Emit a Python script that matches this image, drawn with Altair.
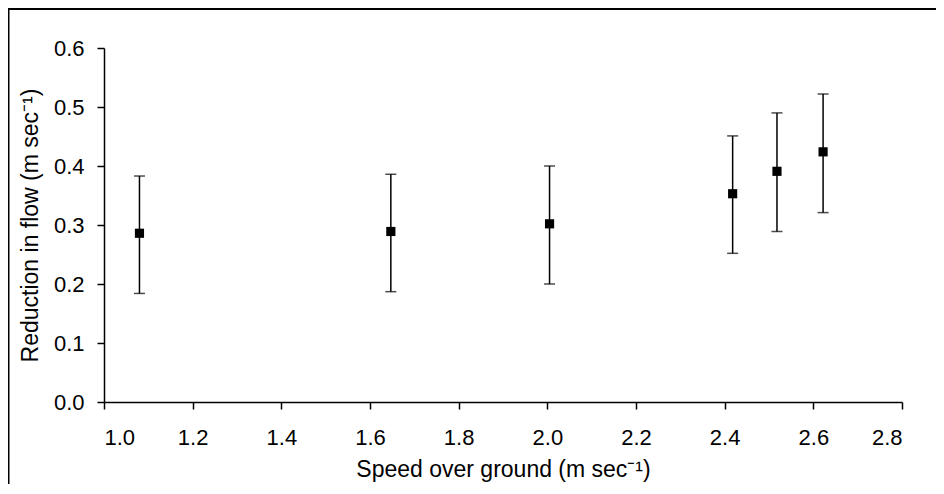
import altair as alt
import pandas as pd

speed = [1.08, 1.647, 2.005, 2.418, 2.518, 2.622]
reduction = [0.286, 0.289, 0.302, 0.353, 0.391, 0.424]
lower = [0.184, 0.187, 0.200, 0.252, 0.289, 0.321]
upper = [0.383, 0.386, 0.400, 0.451, 0.490, 0.522]
x_ticks = [1.0, 1.2, 1.4, 1.6, 1.8, 2.0, 2.2, 2.4, 2.6, 2.8]
y_ticks = [0.0, 0.1, 0.2, 0.3, 0.4, 0.5, 0.6]

df = pd.DataFrame({"speed": speed, "reduction": reduction, "lower": lower, "upper": upper})

FONT = "Liberation Sans"
W, H = 798, 354

xs = alt.Scale(domain=[1.0, 2.8], nice=False, zero=False)
ys = alt.Scale(domain=[0.0, 0.6], nice=False)

x_axis = alt.Axis(values=x_ticks, format=".1f", grid=False, tickSize=7, tickWidth=1.5,
                  domainWidth=1.5, domainColor="black", tickColor="black",
                  labelFont=FONT, labelFontSize=22, labelColor="black", labelPadding=18,
                  title="Speed over ground (m sec⁻¹)", titleFont=FONT, titleFontSize=23,
                  titleFontWeight="normal", titleColor="black",
                  titleX=W / 2, titleY=67, titleBaseline="middle", titleAlign="center")
y_axis = alt.Axis(values=y_ticks, format=".1f", grid=False, tickSize=7, tickWidth=1.5,
                  domainWidth=1.5, domainColor="black", tickColor="black",
                  labelFont=FONT, labelFontSize=22, labelColor="black", labelPadding=13,
                  title="Reduction in flow (m sec⁻¹)", titleFont=FONT, titleFontSize=23,
                  titleFontWeight="normal", titleColor="black",
                  titleX=-74, titleY=H / 2, titleAngle=270, titleBaseline="middle",
                  titleAlign="center")

base = alt.Chart(df)

bars = base.mark_rule(color="black", strokeWidth=1.5).encode(
    x=alt.X("speed:Q", scale=xs, axis=x_axis),
    y=alt.Y("lower:Q", scale=ys, axis=y_axis),
    y2="upper:Q",
)
cap_lo = base.mark_tick(color="black", orient="horizontal", size=11, thickness=1.5).encode(
    x=alt.X("speed:Q", scale=xs), y=alt.Y("lower:Q", scale=ys)
)
cap_hi = base.mark_tick(color="black", orient="horizontal", size=11, thickness=1.5).encode(
    x=alt.X("speed:Q", scale=xs), y=alt.Y("upper:Q", scale=ys)
)
pts = base.mark_point(shape="square", filled=True, color="black", size=84, opacity=1).encode(
    x=alt.X("speed:Q", scale=xs), y=alt.Y("reduction:Q", scale=ys)
)

frame_top = alt.Chart(pd.DataFrame({"a": [0]})).mark_rule(color="black", strokeWidth=2.2).encode(
    x=alt.value(-96), x2=alt.value(W + 40), y=alt.value(-39)
)
frame_left = alt.Chart(pd.DataFrame({"a": [0]})).mark_rule(color="black", strokeWidth=3).encode(
    x=alt.value(-96), y=alt.value(-40), y2=alt.value(H + 200)
)

chart = alt.layer(frame_top, frame_left, bars, cap_lo, cap_hi, pts).properties(
    width=W, height=H,
    autosize=alt.AutoSizeParams(type="none"),
    padding={"left": 96, "top": 40, "right": 34, "bottom": 82},
    background="white",
).configure_view(stroke=None)

chart.save("out.html", embed_options={"renderer": "svg", "actions": False})
